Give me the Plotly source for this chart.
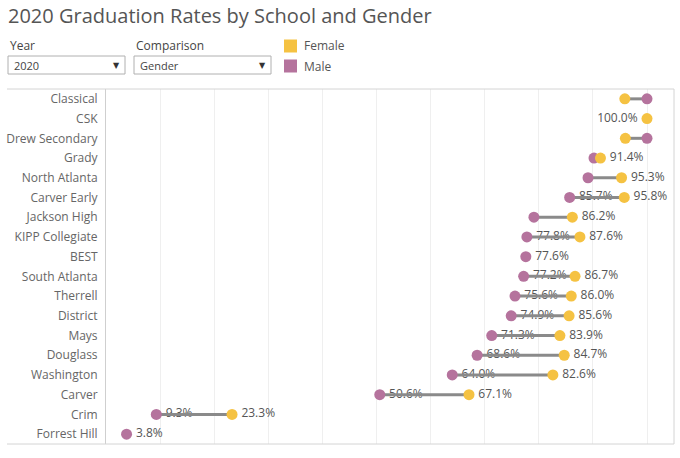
import plotly.graph_objects as go

schools = ["Classical", "CSK", "Drew Secondary", "Grady", "North Atlanta", "Carver Early",
           "Jackson High", "KIPP Collegiate", "BEST", "South Atlanta", "Therrell", "District",
           "Mays", "Douglass", "Washington", "Carver", "Crim", "Forrest Hill"]
female = [95.9, 100.0, 96.0, 91.4, 95.3, 95.8, 86.2, 87.6, None, 86.7, 86.0, 85.6,
          83.9, 84.7, 82.6, 67.1, 23.3, None]
male = [100.0, None, 100.0, 90.2, 89.1, 85.7, 79.1, 77.8, 77.6, 77.2, 75.6, 74.9,
        71.3, 68.6, 64.0, 50.6, 9.3, 3.8]
# which labels tableau actually showed (overlap avoidance)
female_shown = [False, True, False, True, True, True, True, True, False, True, True, True,
                True, True, True, True, True, False]
male_shown = [False, False, False, False, False, True, False, True, True, True, True, True,
              True, True, True, True, True, True]

W, H = 680, 458
L, R, T, B = 106, 6, 89, 14
FEMALE_C = "#F5C242"
MALE_C = "#B5739D"
FONT = "Open Sans"


def px(x):
    return (x - L) / (W - L - R)


def py(y):
    return (H - B - y) / (H - T - B)


def fmt(v):
    return f"{v:.1f}%"


fig = go.Figure()

# value labels first so the connecting line runs over the male ones
fig.add_trace(go.Scatter(
    x=[m for m, s in zip(male, male_shown) if s],
    y=[c for c, s in zip(schools, male_shown) if s],
    mode="text", text=["   " + fmt(m) for m, s in zip(male, male_shown) if s],
    textposition="middle right", textfont=dict(size=12, color="#555", family=FONT),
    hoverinfo="skip"))

fx, fy, ft, fp = [], [], [], []
for c, f, s in zip(schools, female, female_shown):
    if s:
        fx.append(f)
        fy.append(c)
        ft.append(("%s   " if f >= 100 else "   %s") % fmt(f))
        fp.append("middle left" if f >= 100 else "middle right")
fig.add_trace(go.Scatter(
    x=fx, y=fy, mode="text", text=ft, textposition=fp,
    textfont=dict(size=12, color="#555", family=FONT), hoverinfo="skip"))

lx, ly = [], []
for c, f, m in zip(schools, female, male):
    if f is not None and m is not None:
        lx += [m, f, None]
        ly += [c, c, None]
fig.add_trace(go.Scatter(x=lx, y=ly, mode="lines", line=dict(color="#8a8a8a", width=3),
                         hoverinfo="skip"))

fig.add_trace(go.Scatter(x=male, y=schools, mode="markers", name="Male",
                         marker=dict(color=MALE_C, size=11)))
fig.add_trace(go.Scatter(x=female, y=schools, mode="markers", name="Female",
                         marker=dict(color=FEMALE_C, size=11)))

fig.update_layout(
    width=W, height=H, autosize=False,
    margin=dict(l=L, r=R, t=T, b=B),
    paper_bgcolor="white", plot_bgcolor="white",
    showlegend=False,
    font=dict(family=FONT, color="#555"),
    title=dict(text="2020 Graduation Rates by School and Gender", x=8 / W, xanchor="left",
               y=1 - 16 / H, yanchor="middle", font=dict(size=20, color="#555", family=FONT)),
)
fig.update_xaxes(range=[0, (W - L - R) / 5.41], dtick=10, showgrid=True, gridcolor="#efefef",
                 gridwidth=1, zeroline=False, showticklabels=False, fixedrange=True)
fig.update_yaxes(type="category", categoryorder="array", categoryarray=schools,
                 range=[len(schools) - 0.5, -0.5], showgrid=False, showline=True,
                 linecolor="#cfcfcf", linewidth=1, ticks="outside", ticklen=5,
                 tickcolor="rgba(0,0,0,0)", tickfont=dict(size=12, color="#666", family=FONT))

# frame lines
line_c = "#d4d4d4"
fig.add_shape(type="line", xref="paper", yref="paper", x0=px(7), x1=1, y0=1, y1=1,
              line=dict(color=line_c, width=1))
fig.add_shape(type="line", xref="paper", yref="paper", x0=px(7), x1=1, y0=0, y1=0,
              line=dict(color=line_c, width=1))
fig.add_shape(type="line", xref="paper", yref="paper", x0=1, x1=1, y0=0, y1=1,
              line=dict(color=line_c, width=1))

# filter widgets (Year / Comparison dropdowns)
for label, value, x0, x1 in [("Year", "2020", 8, 125), ("Comparison", "Gender", 134, 271)]:
    fig.add_annotation(xref="paper", yref="paper", x=px(x0), y=py(46), xanchor="left",
                       yanchor="middle", text=label, showarrow=False,
                       font=dict(size=12, color="#444", family=FONT))
    fig.add_shape(type="rect", xref="paper", yref="paper", x0=px(x0), x1=px(x1),
                  y0=py(74), y1=py(56), line=dict(color="#b0b0b0", width=1), fillcolor="white")
    fig.add_annotation(xref="paper", yref="paper", x=px(x0 + 4), y=py(65), xanchor="left",
                       yanchor="middle", text=value, showarrow=False,
                       font=dict(size=11, color="#444", family=FONT))
    fig.add_annotation(xref="paper", yref="paper", x=px(x1 - 9), y=py(65), xanchor="center",
                       yanchor="middle", text="▼", showarrow=False,
                       font=dict(size=8, color="#333", family="DejaVu Sans"))

# colour legend
for name, color, yc in [("Female", FEMALE_C, 46), ("Male", MALE_C, 66)]:
    fig.add_shape(type="rect", xref="paper", yref="paper", x0=px(284), x1=px(297),
                  y0=py(yc + 6.5), y1=py(yc - 6.5), line=dict(width=0), fillcolor=color)
    fig.add_annotation(xref="paper", yref="paper", x=px(302), y=py(yc), xanchor="left",
                       yanchor="middle", text=name, showarrow=False,
                       font=dict(size=12, color="#555", family=FONT))

# page has an 8px body margin by default, drop it so the figure fills the window
fig.write_html("out.html", config={"displayModeBar": False},
               post_script="document.body.style.margin='0';")
